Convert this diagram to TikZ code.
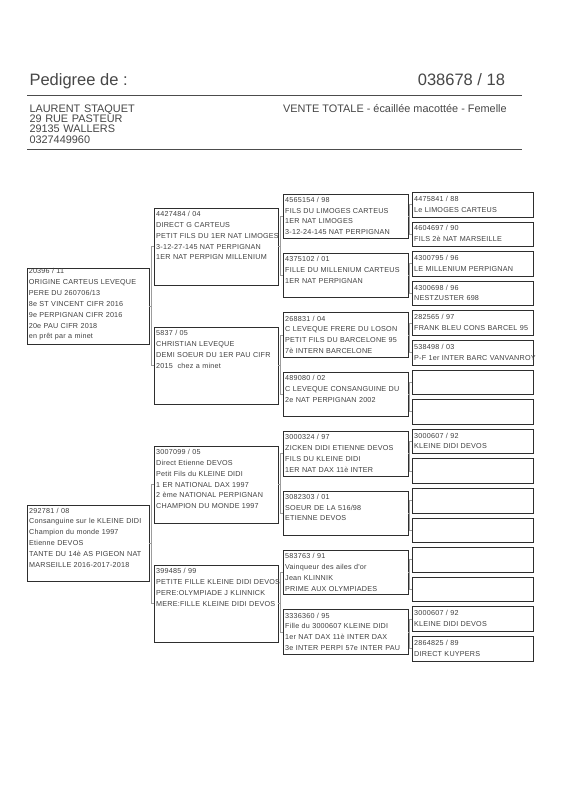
\documentclass[tikz,border=0pt]{standalone}
\usepackage{fontspec}
\setmainfont{Liberation Sans}
\newfontfamily\pedfont[LetterSpace=3]{Liberation Sans}
\usetikzlibrary{calc}
\definecolor{ink}{HTML}{404040}
\definecolor{frame}{HTML}{2E2E2E}
\definecolor{conncol}{HTML}{9C9C9C}
\tikzset{
  pbx/.style={draw=frame, line width=1pt, fill=none, inner sep=0pt, outer sep=0pt, anchor=north west},
  ptxt/.style={inner sep=0pt, outer sep=0pt, anchor=base west, text=ink, align=left, text width=200pt,
               font=\pedfont\fontsize{7.2}{10.8}\selectfont},
  ptxtA/.style={ptxt, font=\pedfont\fontsize{7.2}{10.9}\selectfont},
  conn/.style={draw=conncol, line width=1pt},
  rulestyle/.style={draw=black!70, line width=1.1pt},
  hdr/.style={inner sep=0pt, outer sep=0pt, text=black!72}
}
% name, x, ytop, w, h, first-baseline offset, text
\newcommand\pedbox[7]{%
  \node[pbx, minimum width=#4pt, minimum height=#5pt] (#1) at (#2,#3) {};
  \node[ptxt] (#1t) at ($(#1.north west)+(2.2,#6)$) {#7};
}
\newcommand\pedboxA[7]{%
  \node[pbx, minimum width=#4pt, minimum height=#5pt] (#1) at (#2,#3) {};
  \node[ptxtA] (#1t) at ($(#1.north west)+(1.8,#6)$) {#7};
}
\newcommand\emptybox[5]{%
  \node[pbx, minimum width=#4pt, minimum height=#5pt] (#1) at (#2,#3) {};
}
% parent, child1, child2
\newcommand\pedlink[3]{%
  \draw[conn] (#2.west) -- ++(-2.6,0) coordinate (#2c) |- (#3.west);
  \draw[conn] (#1.east) -- (#1.east -| #2c);
}
\begin{document}
\begin{tikzpicture}[x=1pt,y=-1pt]
\useasboundingbox[fill=white] (0,0) rectangle (566,800);

% header
\node[hdr, anchor=base west, font=\fontsize{16.5}{18}\selectfont] (title) at (29.5,85) {Pedigree de :};
\node[hdr, anchor=base east, font=\fontsize{16.5}{18}\selectfont] (ring) at (505,85) {038678 / 18};
\coordinate (r1a) at (27,95.5); \coordinate (r1b) at (522,95.5);
\draw[rulestyle] (r1a) -- (r1b);
\node[hdr, anchor=base west, align=left, text width=200pt, font=\fontsize{10.9}{10.3}\selectfont] (owner) at (29.5,112.3)
  {LAURENT STAQUET\\29 RUE PASTEUR\\29135 WALLERS\\0327449960};
\node[hdr, anchor=base west, font=\fontsize{10.9}{10.3}\selectfont] (sale) at (283,112.3)
  {VENTE TOTALE - écaillée macottée - Femelle};
\coordinate (r2a) at (27,149.5); \coordinate (r2b) at (522,149.5);
\draw[rulestyle] (r2a) -- (r2b);

% generation 1
\pedboxA{g1a}{27}{268}{122}{76}{5.5}{20396 / 11\\ORIGINE CARTEUS LEVEQUE\\PERE DU 260706/13\\8e ST VINCENT CIFR 2016\\9e PERPIGNAN CIFR 2016\\20e PAU CIFR 2018\\en prêt par a minet}
\pedbox{g1b}{27}{505}{122}{76}{8}{292781 / 08\\Consanguine sur le KLEINE DIDI\\Champion du monde 1997\\Etienne DEVOS\\TANTE DU 14è AS PIGEON NAT\\MARSEILLE 2016-2017-2018}

% generation 2
\pedbox{g2a}{154}{208}{124}{77}{8.6}{4427484 / 04\\DIRECT G CARTEUS\\PETIT FILS DU 1ER NAT LIMOGES\\3-12-27-145 NAT PERPIGNAN\\1ER NAT PERPIGN MILLENIUM}
\pedbox{g2b}{154}{327}{124}{77}{8.6}{5837 / 05\\CHRISTIAN LEVEQUE\\DEMI SOEUR DU 1ER PAU CIFR\\2015~ chez a minet}
\pedbox{g2c}{154}{446}{124}{77}{8.6}{3007099 / 05\\Direct Etienne DEVOS\\Petit Fils du KLEINE DIDI\\1 ER NATIONAL DAX 1997\\2 ème NATIONAL PERPIGNAN\\CHAMPION DU MONDE 1997}
\pedbox{g2d}{154}{565}{124}{77}{8.6}{399485 / 99\\PETITE FILLE KLEINE DIDI DEVOS\\PERE:OLYMPIADE J KLINNICK\\MERE:FILLE KLEINE DIDI DEVOS}

% generation 3
\pedbox{g3a}{283}{194}{125}{44.5}{8.3}{4565154 / 98\\FILS DU LIMOGES CARTEUS\\1ER NAT LIMOGES\\3-12-24-145 NAT PERPIGNAN}
\pedbox{g3b}{283}{253.4}{125}{44.5}{8.3}{4375102 / 01\\FILLE DU MILLENIUM CARTEUS\\1ER NAT PERPIGNAN}
\pedbox{g3c}{283}{312.8}{125}{44.5}{8.3}{268831 / 04\\C LEVEQUE FRERE DU LOSON\\PETIT FILS DU BARCELONE 95\\7è INTERN BARCELONE}
\pedbox{g3d}{283}{372.2}{125}{44.5}{8.3}{489080 / 02\\C LEVEQUE CONSANGUINE DU\\2e NAT PERPIGNAN 2002}
\pedbox{g3e}{283}{431.6}{125}{44.5}{8.3}{3000324 / 97\\ZICKEN DIDI ETIENNE DEVOS\\FILS DU KLEINE DIDI\\1ER NAT DAX 11è INTER}
\pedbox{g3f}{283}{491}{125}{44.5}{8.3}{3082303 / 01\\SOEUR DE LA 516/98\\ETIENNE DEVOS}
\pedbox{g3g}{283}{550.4}{125}{44.5}{8.3}{583763 / 91\\Vainqueur des ailes d'or\\Jean KLINNIK\\PRIME AUX OLYMPIADES}
\pedbox{g3h}{283}{609.8}{125}{44.5}{8.3}{3336360 / 95\\Fille du 3000607 KLEINE DIDI\\1er NAT DAX 11è INTER DAX\\3e INTER PERPI 57e INTER PAU}

% generation 4
\pedbox{g4a}{412}{192.5}{121}{24.5}{8.8}{4475841 / 88\\Le LIMOGES CARTEUS}
\pedbox{g4b}{412}{222.1}{121}{24.5}{8.8}{4604697 / 90\\FILS 2è NAT MARSEILLE}
\pedbox{g4c}{412}{251.7}{121}{24.5}{8.8}{4300795 / 96\\LE MILLENIUM PERPIGNAN}
\pedbox{g4d}{412}{281.3}{121}{24.5}{8.8}{4300698 / 96\\NESTZUSTER 698}
\pedbox{g4e}{412}{310.9}{121}{24.5}{8.8}{282565 / 97\\FRANK BLEU CONS BARCEL 95}
\pedbox{g4f}{412}{340.5}{121}{24.5}{8.8}{538498 / 03\\P-F 1er INTER BARC VANVANROY}
\emptybox{g4g}{412}{370.1}{121}{24.5}
\emptybox{g4h}{412}{399.7}{121}{24.5}
\pedbox{g4i}{412}{429.3}{121}{24.5}{8.8}{3000607 / 92\\KLEINE DIDI DEVOS}
\emptybox{g4j}{412}{458.9}{121}{24.5}
\emptybox{g4k}{412}{488.5}{121}{24.5}
\emptybox{g4l}{412}{518.1}{121}{24.5}
\emptybox{g4m}{412}{547.7}{121}{24.5}
\emptybox{g4n}{412}{577.3}{121}{24.5}
\pedbox{g4o}{412}{606.9}{121}{24.5}{8.8}{3000607 / 92\\KLEINE DIDI DEVOS}
\pedbox{g4p}{412}{636.5}{121}{24.5}{8.8}{2864825 / 89\\DIRECT KUYPERS}

% connectors
\pedlink{g1a}{g2a}{g2b}
\pedlink{g1b}{g2c}{g2d}
\pedlink{g2a}{g3a}{g3b}
\pedlink{g2b}{g3c}{g3d}
\pedlink{g2c}{g3e}{g3f}
\pedlink{g2d}{g3g}{g3h}
\pedlink{g3a}{g4a}{g4b}
\pedlink{g3b}{g4c}{g4d}
\pedlink{g3c}{g4e}{g4f}
\pedlink{g3d}{g4g}{g4h}
\pedlink{g3e}{g4i}{g4j}
\pedlink{g3f}{g4k}{g4l}
\pedlink{g3g}{g4m}{g4n}
\pedlink{g3h}{g4o}{g4p}
\end{tikzpicture}
\end{document}
